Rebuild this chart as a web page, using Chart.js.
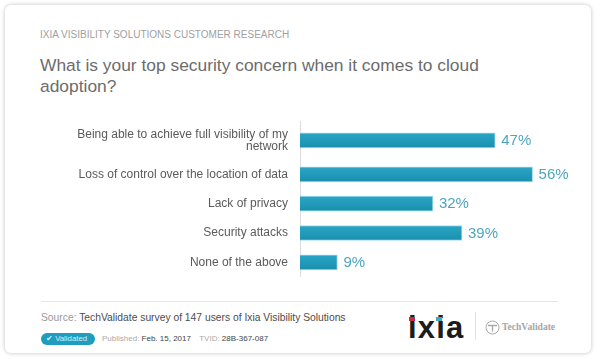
<!DOCTYPE html>
<html>
<head>
<meta charset="utf-8">
<script src="https://cdn.jsdelivr.net/npm/chart.js@4/dist/chart.umd.min.js"></script>
<style>
html, body { margin: 0; padding: 0; background: #fff; }
body { width: 600px; height: 359px; overflow: hidden; position: relative; font-family: "Liberation Sans", Arial, sans-serif; }
.card { position: absolute; left: 5px; top: 5px; width: 586px; height: 348px; border-radius: 6px; background: #fff; box-shadow: 0 0 4px rgba(0,0,0,.25); }
.txt { position: absolute; white-space: nowrap; }
.eyebrow { left: 40px; top: 29px; font-size: 10px; line-height: 11px; color: #a0a0a0; }
.question { left: 40px; top: 55px; font-size: 17.4px; line-height: 21px; color: #6c6c6c; }
.rule { position: absolute; left: 41px; top: 301px; width: 517px; height: 1px; background: #e6e6e6; }
.source { left: 41px; top: 311px; font-size: 10.3px; line-height: 13px; color: #4c4c4c; }
.source span { color: #999; }
.badge { left: 41px; top: 333px; width: 54px; height: 12px; border-radius: 6px; background: #1f9dbf; color: #d4eef5; font-size: 7.8px; line-height: 12px; text-indent: 5px; }
.meta { left: 102px; top: 334px; font-size: 8px; line-height: 10px; color: #444; }
.meta span { color: #aaa; }
.meta b { font-weight: normal; margin-left: 6px; color: #aaa; }
.ixia { left: 408px; top: 310px; font-size: 31px; line-height: 36px; font-weight: bold; color: #1c1c1c; letter-spacing: 1.2px; }
.dot { position: absolute; width: 6px; height: 4px; }
.vline { position: absolute; left: 475px; top: 312px; width: 1px; height: 28px; background: #e2e2e2; }
.tv { left: 502px; top: 321px; font-family: "Liberation Serif", serif; font-weight: bold; font-size: 9.6px; line-height: 12px; color: #a6a6a6; }
.tvicon { position: absolute; left: 485px; top: 320px; }
#wrap { position: absolute; left: 40px; top: 121px; width: 530px; height: 156px; }
</style>
</head>
<body>
<div class="card"></div>
<div class="txt eyebrow">IXIA VISIBILITY SOLUTIONS CUSTOMER RESEARCH</div>
<div class="txt question">What is your top security concern when it comes to cloud<br>adoption?</div>
<div id="wrap"><canvas id="chart"></canvas></div>
<div class="rule"></div>
<div class="txt source"><span>Source:</span> TechValidate survey of 147 users of Ixia Visibility Solutions</div>
<div class="txt badge">&#10004; Validated</div>
<div class="txt meta"><span>Published:</span> Feb. 15, 2017 <b>TVID:</b> 28B-367-087</div>
<div class="txt ixia">ixia</div>
<div class="dot" style="left:409px;top:317px;background:#b5324a"></div>
<div class="dot" style="left:436px;top:317px;background:#3fa7c4"></div>
<div class="vline"></div>
<svg class="tvicon" width="15" height="15" viewBox="0 0 15 15">
  <circle cx="7.5" cy="7.5" r="6.5" fill="none" stroke="#aaa" stroke-width="1"></circle>
  <path d="M3 5.5h9M7.5 5.5v6" fill="none" stroke="#aaa" stroke-width="1.4"></path>
</svg>
<div class="txt tv">TechValidate</div>

<script>
const categories = [
    ['Being able to achieve full visibility of my', 'network'],
    'Loss of control over the location of data',
    'Lack of privacy',
    'Security attacks',
    'None of the above'
];
const shares = [47, 56, 32, 39, 9];

const barThickness = 15;

// Rows grow with their label, a two line label gets a taller row
const rowUnits = categories.map(c => Array.isArray(c) ? 1.32 : 1);

class RowScale extends Chart.CategoryScale {
    getPixelForValue(value) {
        const index = typeof value === 'number' ? value : this.parse(value);
        const total = rowUnits.reduce((a, b) => a + b, 0);
        const before = rowUnits.slice(0, index).reduce((a, b) => a + b, 0);
        return this.top + this.height * (before + rowUnits[index] / 2) / total;
    }
}
RowScale.id = 'rows';
RowScale.defaults = Chart.CategoryScale.defaults;
Chart.register(RowScale);

// Percent labels at the end of each bar
const valueLabels = {
    id: 'valueLabels',
    afterDatasetsDraw(chart) {
        const ctx = chart.ctx;
        ctx.save();
        ctx.font = '15px "Liberation Sans", Arial, sans-serif';
        ctx.fillStyle = '#4ba6be';
        ctx.textBaseline = 'middle';
        chart.getDatasetMeta(0).data.forEach((bar, i) => {
            ctx.fillText(shares[i] + '%', bar.x + 6, bar.y + 0.5);
        });
        ctx.restore();
    }
};

// Each bar fades a little darker towards its bottom edge
function barFill(context) {
    const { chart, dataIndex } = context;
    const yScale = chart.scales.y;
    if (!yScale || dataIndex === undefined) return '#1f9cbd';
    const mid = yScale.getPixelForValue(dataIndex);
    // scale has no size yet on the first pass
    if (!Number.isFinite(mid)) return '#1f9cbd';
    const fill = chart.ctx.createLinearGradient(0, mid - barThickness / 2, 0, mid + barThickness / 2);
    fill.addColorStop(0, '#2aa5c6');
    fill.addColorStop(1, '#1a8fae');
    return fill;
}

new Chart(document.getElementById('chart'), {
    type: 'bar',
    plugins: [valueLabels],
    data: {
        labels: categories,
        datasets: [{
            data: shares,
            backgroundColor: barFill,
            borderColor: 'rgba(120, 205, 228, 0.7)',
            borderWidth: 1,
            barThickness: barThickness
        }]
    },
    options: {
        indexAxis: 'y',
        responsive: true,
        maintainAspectRatio: false,
        animation: false,
        layout: { padding: 0 },
        plugins: {
            legend: { display: false },
            tooltip: { enabled: false }
        },
        scales: {
            x: {
                display: false,
                min: 0,
                max: 65
            },
            y: {
                type: 'rows',
                grid: { display: false, drawTicks: false },
                border: { display: true, color: '#dddddd', width: 1 },
                afterFit: (scale) => {
                    scale.width = 260;
                    // labels may not shrink the plot, the rows already leave room
                    scale.paddingTop = 0;
                    scale.paddingBottom = 0;
                },
                ticks: {
                    autoSkip: false,
                    padding: 12,
                    color: '#5a5a5a',
                    font: { family: '"Liberation Sans", Arial, sans-serif', size: 12, lineHeight: 1 }
                }
            }
        }
    }
});
</script>
</body>
</html>
